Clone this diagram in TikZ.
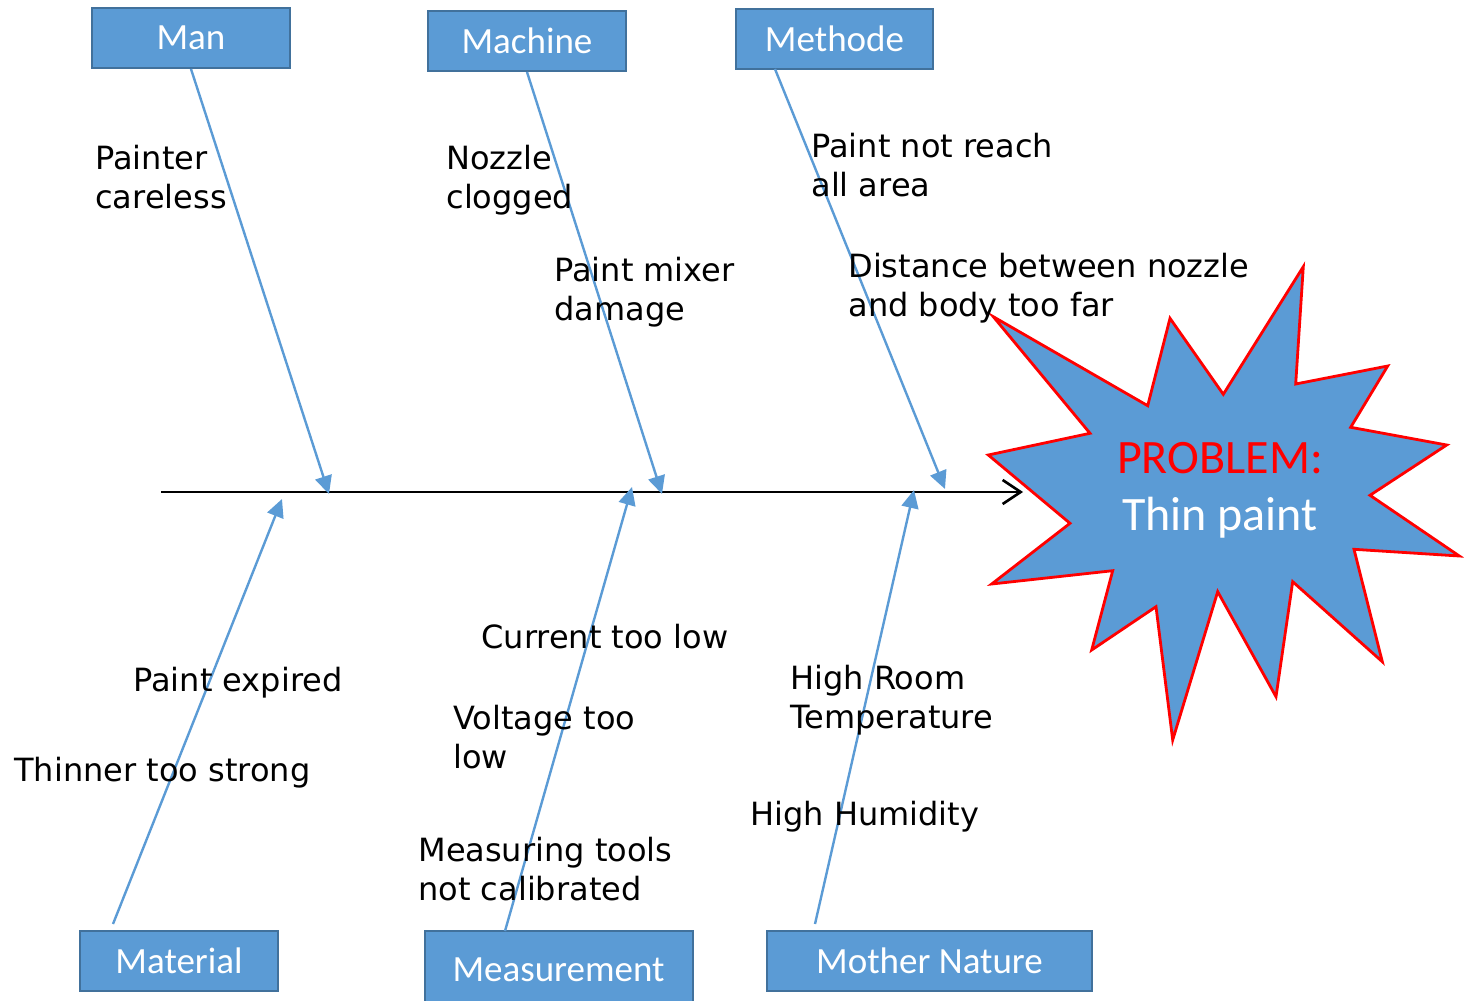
\documentclass[tikz,border=0pt]{standalone}
\usepackage{fontspec}
\setmainfont{DejaVu Sans}
\newfontfamily\boxfont{Carlito}
\usetikzlibrary{arrows.meta,positioning}
\definecolor{boneBlue}{HTML}{5B9BD5}
\definecolor{boxEdge}{HTML}{41719C}
\definecolor{starRed}{HTML}{FF0000}

\begin{document}
\begin{tikzpicture}[
    x=0.5pt, y=-0.5pt,
    catbox/.style={rectangle, draw=boxEdge, line width=1pt, fill=boneBlue,
                   text=white, font=\boxfont\fontsize{18.5}{21}\selectfont,
                   minimum height=30pt, inner sep=0pt},
    cause/.style={anchor=base west, align=left, inner sep=0pt,
                  font=\fontsize{16}{19.5}\selectfont},
    bone/.style={-{Triangle[length=9pt,width=8.5pt]}, line width=1.2pt, color=boneBlue},
    spine/.style={-{Straight Barb[length=9pt,width=12pt]}, line width=1.3pt, black}
  ]
    \useasboundingbox (0,0) rectangle (1464,1001);

    % category boxes
    \node[catbox, minimum width=99pt]    (man)      at (191,38)    {Man};
    \node[catbox, minimum width=99pt]    (machine)  at (527,41)    {Machine};
    \node[catbox, minimum width=98.5pt]  (methode)  at (834.5,39)  {Methode};
    \node[catbox, minimum width=99pt]    (material) at (179,961)   {Material};
    \node[catbox, minimum width=134pt, minimum height=39pt] (measure) at (558.5,970) {Measurement};
    \node[catbox, minimum width=162.5pt] (nature)   at (929.5,960.5) {Mother Nature};

    % problem star
    \draw[fill=boneBlue, draw=starRed, line width=1.4pt]
      (993.3,316.7) -- (1147.7,405.7) -- (1170,318.3) -- (1223.3,394.3)
      -- (1303.3,266.7) -- (1295.7,384) -- (1387.7,366) -- (1350.7,427.3)
      -- (1446.7,445) -- (1370,495.3) -- (1459.3,556) -- (1354,549.3)
      -- (1382.3,661.7) -- (1292.7,581.7) -- (1276,696.7) -- (1217.7,591.7)
      -- (1172.7,740) -- (1156,606.7) -- (1091.7,650) -- (1112.7,570.7)
      -- (991.7,584) -- (1070,523.3) -- (988.3,455) -- (1090,433.3) -- cycle;
    \node[align=center, font=\boxfont\fontsize{24}{28.5}\selectfont] (problem) at (1220,490)
      {\textcolor{starRed}{PROBLEM:}\\\textcolor{white}{Thin paint}};

    % spine
    \coordinate (tail) at (161,492);
    \coordinate (head) at (1023,492);
    \draw[spine] (tail) -- (head);

    % bones
    \coordinate (s-methode)  at (775,69);
    \coordinate (s-material) at (113,924);
    \coordinate (s-measure)  at (505,931);
    \coordinate (s-nature)   at (815,924);
    \coordinate (e-man)      at (329,494);
    \coordinate (e-machine)  at (662,494);
    \coordinate (e-methode)  at (945,489);
    \coordinate (e-material) at (282,499);
    \coordinate (e-measure)  at (632,487);
    \coordinate (e-nature)   at (914,490);
    \draw[bone] (man.south)     -- (e-man);
    \draw[bone] (machine.south) -- (e-machine);
    \draw[bone] (s-methode)     -- (e-methode);
    \draw[bone] (s-material)    -- (e-material);
    \draw[bone] (s-measure)     -- (e-measure);
    \draw[bone] (s-nature)      -- (e-nature);

    % causes (base = last line)
    \node[cause] (careless) at (95,208)  {Painter\\careless};
    \node[cause] (nozzle)   at (446,208) {Nozzle\\clogged};
    \node[cause] (mixer)    at (554,320) {Paint mixer\\damage};
    \node[cause] (reach)    at (811,196) {Paint not reach\\all area};
    \node[cause] (distance) at (848,316) {Distance between nozzle\\and body too far};
    \node[cause] (expired)  at (133,691) {Paint expired};
    \node[cause] (thinner)  at (14,781)  {Thinner too strong};
    \node[cause] (current)  at (481,648) {Current too low};
    \node[cause] (voltage)  at (453,768) {Voltage too\\low};
    \node[cause] (tools)    at (418,900) {Measuring tools\\not calibrated};
    \node[cause] (roomtemp) at (790,728) {High Room\\Temperature};
    \node[cause] (humidity) at (750,825) {High Humidity};
\end{tikzpicture}
\end{document}
